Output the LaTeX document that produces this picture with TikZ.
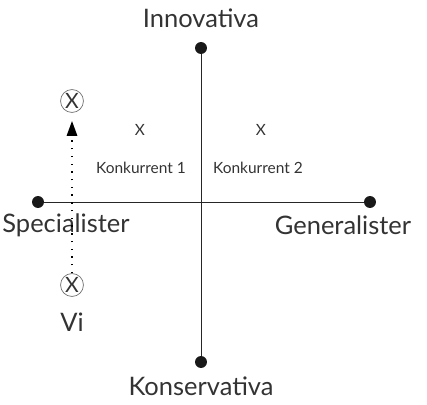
\documentclass[tikz,border=0pt]{standalone}
\usepackage{fontspec}
\setmainfont{Lato}
\usetikzlibrary{arrows.meta}

\newlength{\pxu}
\setlength{\pxu}{0.567pt}
\tikzset{
  dot/.style={circle, fill=black!90, inner sep=0pt, minimum size=12\pxu},
  axislabel/.style={font=\fontsize{14.5}{16}\selectfont, text=black!80},
  small/.style={font=\fontsize{8.8}{10}\selectfont, text=black!80},
  mark circle/.style={circle, draw=black!55, line width=0.4pt, inner sep=0pt, minimum size=23\pxu, font=\fontsize{12}{14}\selectfont, text=black!80}
}

\begin{document}
\begin{tikzpicture}[x=0.02cm, y=-0.02cm]
        \useasboundingbox (0,0) rectangle (427,405);

        \node[dot] (innov) at (201,48) {};
        \node[dot] (konserv) at (201,362) {};
        \node[dot] (spec) at (38,202) {};
        \node[dot] (gen) at (370,202) {};

        \draw[black!85, line width=0.5pt] (innov) -- (konserv);
        \draw[black!85, line width=0.5pt] (spec) -- (gen);

        \node[axislabel] (innovtext) at (201,18) {Innovativa};
        \node[axislabel] (konservtext) at (201,386) {Konservativa};
        \node[axislabel] (spectext) at (66,225) {Specialister};
        \node[axislabel] (gentext) at (343,225) {Generalister};

        \node[small] (x1) at (140,130) {X};
        \node[small] (x2) at (261,130) {X};
        \node[small] (k1) at (141,168) {Konkurrent 1};
        \node[small] (k2) at (258,168) {Konkurrent 2};

        \node[mark circle] (mal) at (72,101) {X};
        \node[mark circle] (vi) at (72,285) {X};
        \node[axislabel] (vitext) at (72,322) {Vi};

        \coordinate (tip) at (72,121);
        \draw[line width=0.8pt, dash pattern=on 0.8pt off 3.6pt, -{Triangle[length=8.5pt, width=6pt, sep=0pt]}] (vi.north) -- (tip);
    \end{tikzpicture}
\end{document}
